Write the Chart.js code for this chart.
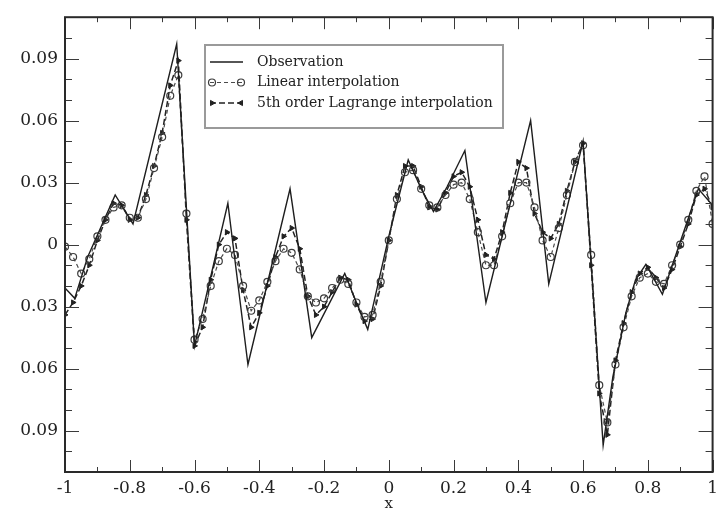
<!DOCTYPE html>
<html>
<head>
<meta charset="utf-8">
<script src="https://cdn.jsdelivr.net/npm/chart.js@4.4.1/dist/chart.umd.min.js"></script>
<style>
  body { margin: 0; background: #fff; }
  #wrap { width: 724px; height: 513px; }
</style>
</head>
<body>
<div id="wrap"><canvas id="grafico" width="724" height="513"></canvas></div>
<script>
// observacao: vertices da curva medida
const obsX = [-1.00, -0.97, -0.93, -0.845, -0.79, -0.655, -0.60, -0.497, -0.435, -0.305, -0.238, -0.136, -0.10, -0.065, 0.00, 0.06, 0.10, 0.138, 0.18, 0.235, 0.30, 0.438, 0.494, 0.60, 0.662, 0.692, 0.732, 0.762, 0.794, 0.845, 0.956, 1.00]
const obsY = [-0.021, -0.026, -0.006, 0.024, 0.010, 0.097, -0.049, 0.020, -0.058, 0.027, -0.045, -0.014, -0.028, -0.041, 0.004, 0.041, 0.027, 0.016, 0.028, 0.0455, -0.028, 0.060, -0.019, 0.050, -0.097, -0.064, -0.033, -0.017, -0.0095, -0.024, 0.027, 0.019]

// pontos das interpolacoes
const pontosX = [-1.000, -0.975, -0.950, -0.925, -0.900, -0.875, -0.850, -0.825, -0.800, -0.775,
  -0.750, -0.725, -0.700, -0.675, -0.650, -0.625, -0.600, -0.575, -0.550, -0.525,
  -0.500, -0.475, -0.450, -0.425, -0.400, -0.375, -0.350, -0.325, -0.300, -0.275,
  -0.250, -0.225, -0.200, -0.175, -0.150, -0.125, -0.100, -0.075, -0.050, -0.025,
  0.000, 0.025, 0.050, 0.075, 0.100, 0.125, 0.150, 0.175, 0.200, 0.225,
  0.250, 0.275, 0.300, 0.325, 0.350, 0.375, 0.400, 0.425, 0.450, 0.475,
  0.500, 0.525, 0.550, 0.575, 0.600, 0.625, 0.650, 0.675, 0.700, 0.725,
  0.750, 0.775, 0.800, 0.825, 0.850, 0.875, 0.900, 0.925, 0.950, 0.975, 1.000]
const linearY = [-0.001, -0.006, -0.014, -0.007, 0.004, 0.012, 0.018, 0.019, 0.013, 0.013,
  0.022, 0.037, 0.052, 0.072, 0.082, 0.015, -0.046, -0.036, -0.020, -0.008,
  -0.002, -0.005, -0.020, -0.032, -0.027, -0.018, -0.008, -0.002, -0.004, -0.012,
  -0.025, -0.028, -0.026, -0.021, -0.017, -0.019, -0.028, -0.035, -0.034, -0.018,
  0.002, 0.022, 0.035, 0.036, 0.027, 0.019, 0.018, 0.024, 0.029, 0.030,
  0.022, 0.006, -0.010, -0.010, 0.004, 0.020, 0.030, 0.030, 0.018, 0.002,
  -0.006, 0.008, 0.024, 0.040, 0.048, -0.005, -0.068, -0.086, -0.058, -0.040,
  -0.025, -0.016, -0.014, -0.018, -0.019, -0.010, 0.000, 0.012, 0.026, 0.033, 0.010]
const lagrangeY = [-0.034, -0.028, -0.020, -0.010, 0.002, 0.012, 0.020, 0.019, 0.012, 0.013,
  0.024, 0.038, 0.054, 0.077, 0.089, 0.012, -0.049, -0.040, -0.017, 0.000,
  0.006, 0.003, -0.022, -0.040, -0.033, -0.020, -0.006, 0.004, 0.008, -0.002,
  -0.025, -0.034, -0.030, -0.023, -0.016, -0.017, -0.029, -0.037, -0.036, -0.020,
  0.002, 0.024, 0.038, 0.038, 0.028, 0.018, 0.017, 0.025, 0.033, 0.035,
  0.028, 0.012, -0.005, -0.007, 0.006, 0.025, 0.040, 0.037, 0.015, 0.006,
  0.003, 0.010, 0.026, 0.040, 0.049, -0.010, -0.072, -0.092, -0.056, -0.038,
  -0.023, -0.014, -0.011, -0.016, -0.021, -0.012, -0.001, 0.010, 0.024, 0.027, 0.018]

const nomesSeries = ['Observation', 'Linear interpolation', '5th order Lagrange interpolation']

const xTicks = [-1, -0.8, -0.6, -0.4, -0.2, 0, 0.2, 0.4, 0.6, 0.8, 1]
const xMenores = [-0.9, -0.7, -0.5, -0.3, -0.1, 0.1, 0.3, 0.5, 0.7, 0.9]
const yTicks = [-0.09, -0.06, -0.03, 0, 0.03, 0.06, 0.09]
const yMenores = [-0.10, -0.08, -0.07, -0.05, -0.04, -0.02, -0.01, 0.01, 0.02, 0.04, 0.05, 0.07, 0.08, 0.10]

const fonteEixo = { family: "'DejaVu Serif', serif", size: 17 }
const corTexto = '#222'

// moldura com tracos de escala para dentro nos quatro lados
const molduraEixos = {
	id: 'molduraEixos',
	afterDatasetsDraw(chart) {
		const { ctx, chartArea: a, scales: { x, y } } = chart
		ctx.save()
		ctx.strokeStyle = '#3a3a3a'
		ctx.lineWidth = 1
		ctx.beginPath()
		xTicks.concat(xMenores).forEach((v) => {
			const len = xTicks.includes(v) ? 12 : 5
			const px = Math.round(x.getPixelForValue(v)) + 0.5
			ctx.moveTo(px, a.bottom); ctx.lineTo(px, a.bottom - len)
			ctx.moveTo(px, a.top); ctx.lineTo(px, a.top + len)
		})
		yTicks.concat(yMenores).forEach((v) => {
			const len = yTicks.includes(v) ? 14 : 7
			const py = Math.round(y.getPixelForValue(v)) + 0.5
			ctx.moveTo(a.left, py); ctx.lineTo(a.left + len, py)
			ctx.moveTo(a.right, py); ctx.lineTo(a.right - len, py)
		})
		ctx.stroke()
		ctx.lineWidth = 2
		ctx.strokeStyle = '#2a2a2a'
		ctx.strokeRect(a.left, a.top, a.right - a.left, a.bottom - a.top)
		ctx.restore()
	}
}

// legenda em caixa dentro da area do grafico
const legendaCaixa = {
	id: 'legendaCaixa',
	afterDraw(chart) {
		const { ctx } = chart
		const caixa = { left: 205, top: 45, width: 298, height: 83 }
		ctx.save()
		ctx.fillStyle = '#fff'
		ctx.fillRect(caixa.left, caixa.top, caixa.width, caixa.height)
		ctx.strokeStyle = '#9a9a9a'
		ctx.lineWidth = 2
		ctx.strokeRect(caixa.left, caixa.top, caixa.width, caixa.height)
		chart.data.datasets.forEach((ds, i) => {
			const cy = 62 + i * 20.5
			ctx.setLineDash(ds.borderDash || [])
			ctx.strokeStyle = ds.borderColor
			ctx.lineWidth = ds.borderWidth
			ctx.beginPath()
			ctx.moveTo(210, cy)
			ctx.lineTo(243, cy)
			ctx.stroke()
			ctx.setLineDash([])
			if (ds.pointRadius > 0) {
				ctx.fillStyle = ds.pointBackgroundColor
				ctx.strokeStyle = ds.pointBorderColor
				ctx.lineWidth = ds.pointBorderWidth
				const opc = { pointStyle: ds.pointStyle, radius: ds.pointRadius, borderWidth: ds.pointBorderWidth }
				Chart.helpers.drawPoint(ctx, { ...opc, rotation: ds.pointRotation || 0 }, 212, cy)
				Chart.helpers.drawPoint(ctx, { ...opc, rotation: -(ds.pointRotation || 0) }, 241, cy)
			}
			ctx.fillStyle = corTexto
			ctx.font = "14px 'DejaVu Serif', serif"
			ctx.textBaseline = 'middle'
			ctx.fillText(ds.label, 257, cy)
		})
		ctx.restore()
	}
}

const chart = new Chart(document.getElementById('grafico'), {
	type: 'line',
	data: {
		datasets: [
			{
				label: nomesSeries[0],
				data: obsX.map((v, i) => ({ x: v, y: obsY[i] })),
				borderColor: '#1e1e1e',
				borderWidth: 1.4,
				pointRadius: 0,
				tension: 0,
				fill: false
			},
			{
				label: nomesSeries[1],
				data: pontosX.map((v, i) => ({ x: v, y: linearY[i] })),
				borderColor: '#4a4a4a',
				borderWidth: 1.2,
				borderDash: [4, 3],
				pointStyle: 'circle',
				pointRadius: 3.5,
				pointBackgroundColor: 'rgba(255,255,255,0)',
				pointBorderColor: '#3c3c3c',
				pointBorderWidth: 1.2,
				tension: 0,
				fill: false
			},
			{
				label: nomesSeries[2],
				data: pontosX.map((v, i) => ({ x: v, y: lagrangeY[i] })),
				borderColor: '#222',
				borderWidth: 1.5,
				borderDash: [6, 3],
				pointStyle: 'triangle',
				pointRotation: 90,
				pointRadius: 3,
				pointBackgroundColor: '#222',
				pointBorderColor: '#222',
				pointBorderWidth: 1,
				tension: 0,
				fill: false
			}
		]
	},
	options: {
		responsive: false,
		animation: false,
		events: [],
		layout: { padding: { top: 13, right: 3, left: 0, bottom: 0 } },
		plugins: { legend: { display: false }, tooltip: { enabled: false } },
		scales: {
			x: {
				type: 'linear',
				min: -1,
				max: 1,
				afterBuildTicks: (s) => { s.ticks = xTicks.map((v) => ({ value: v })) },
				afterFit: (s) => { s.height = 41 },
				grid: { display: false, drawTicks: false },
				border: { display: false },
				ticks: {
					autoSkip: false,
					maxRotation: 0,
					padding: 6,
					font: fonteEixo,
					color: corTexto,
					callback: (v) => String(+Number(v).toFixed(1))
				},
				title: { display: true, text: 'x', font: { family: "'DejaVu Serif', serif", size: 15 }, color: corTexto, padding: { top: 0, bottom: 0 } }
			},
			y: {
				type: 'linear',
				min: -0.11,
				max: 0.11,
				afterBuildTicks: (s) => { s.ticks = yTicks.map((v) => ({ value: v })) },
				afterFit: (s) => { s.width = 65 },
				grid: { display: false, drawTicks: false },
				border: { display: false },
				ticks: {
					padding: 7,
					font: fonteEixo,
					color: corTexto,
					// o eixo y mostra so o modulo dos valores
					callback: (v) => String(Math.abs(+Number(v).toFixed(2)))
				}
			}
		}
	},
	plugins: [molduraEixos, legendaCaixa]
})
</script>
</body>
</html>
